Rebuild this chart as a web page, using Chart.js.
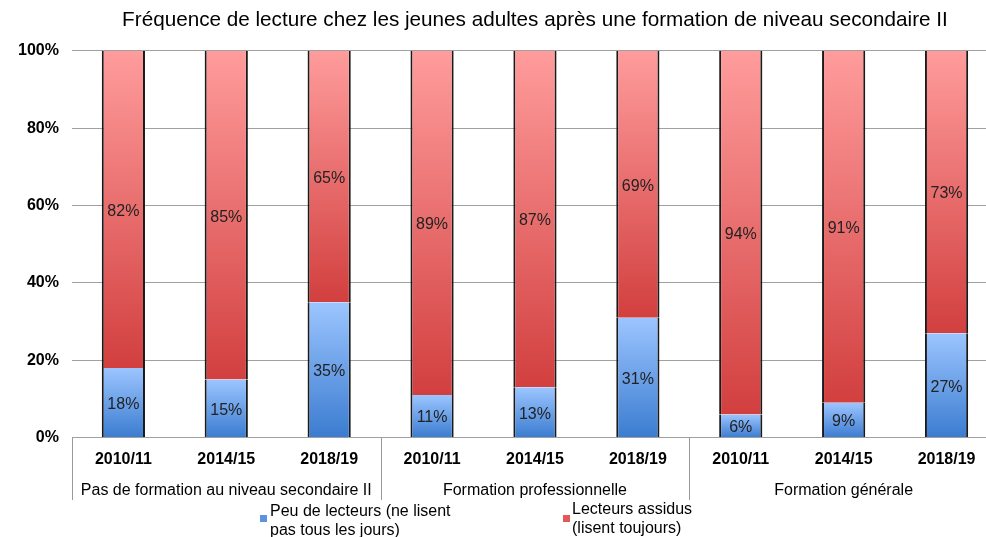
<!DOCTYPE html>
<html>
<head>
<meta charset="utf-8">
<script src="https://cdn.jsdelivr.net/npm/chart.js@4"></script>
<style>
  html, body { margin: 0; padding: 0; background: #fff; overflow: hidden; }
  #wrap { position: relative; width: 1000px; height: 537px; }
  .leg { position: absolute; font-family: "Liberation Sans", Arial, sans-serif; font-size: 16px; line-height: 19px; color: #000; }
  .box { position: absolute; width: 7px; height: 7px; }
</style>
</head>
<body>
<div id="wrap">
  <canvas id="chart" width="1000" height="537"></canvas>
  <div class="box" style="left:260px; top:515px; background:#5b93df;"></div>
  <div class="leg" style="left:270px; top:501px;">Peu de lecteurs (ne lisent<br>pas tous les jours)</div>
  <div class="box" style="left:563px; top:515px; background:#e05a5a;"></div>
  <div class="leg" style="left:572px; top:499px;">Lecteurs assidus<br>(lisent toujours)</div>
</div>
<script>
var years = ["2010/11", "2014/15", "2018/19", "2010/11", "2014/15", "2018/19", "2010/11", "2014/15", "2018/19"];
var groups = ["Pas de formation au niveau secondaire II", "Formation professionnelle", "Formation générale"];
var fewReaders = [18, 15, 35, 11, 13, 31, 6, 9, 27];
var regularReaders = [82, 85, 65, 89, 87, 69, 94, 91, 73];

var FONT = "'Liberation Sans', Arial, sans-serif";

// gradient for one stacked segment, light at top, dark at bottom
function segGradient(top, bottom, light, dark) {
  return function (c) {
    var chart = c.chart;
    if (!chart.chartArea || c.dataIndex === undefined) return dark;
    var y = chart.scales.y;
    var i = c.dataIndex;
    var y0 = y.getPixelForValue(top(i));
    var y1 = y.getPixelForValue(bottom(i));
    var g = chart.ctx.createLinearGradient(0, y0, 0, y1);
    g.addColorStop(0, light);
    g.addColorStop(1, dark);
    return g;
  };
}

// value labels in the middle of each segment
var valueLabels = {
  id: 'valueLabels',
  afterDatasetsDraw: function (chart) {
    var ctx = chart.ctx;
    ctx.save();
    ctx.font = "16px " + FONT;
    ctx.fillStyle = "#222";
    ctx.textAlign = "center";
    ctx.textBaseline = "middle";
    chart.data.datasets.forEach(function (ds, di) {
      chart.getDatasetMeta(di).data.forEach(function (el, i) {
        ctx.fillText(ds.data[i] + "%", el.x, (el.y + el.base) / 2 + 2);
      });
    });
    ctx.restore();
  }
};

// group separators under the plot
var groupLines = {
  id: 'groupLines',
  afterDraw: function (chart) {
    var x = chart.scales.x, x2 = chart.scales.x2;
    var ctx = chart.ctx;
    ctx.save();
    ctx.strokeStyle = "#999";
    ctx.lineWidth = 1;
    for (var k = 0; k < groups.length; k++) {
      var px = Math.round(x.left + (x.right - x.left) * k / groups.length) + 0.5;
      ctx.beginPath();
      ctx.moveTo(px, chart.chartArea.bottom);
      ctx.lineTo(px, x2.bottom);
      ctx.stroke();
    }
    ctx.restore();
  }
};

new Chart(document.getElementById("chart"), {
  type: 'bar',
  data: {
    labels: years,
    datasets: [{
      label: 'Peu de lecteurs (ne lisent pas tous les jours)',
      data: fewReaders,
      backgroundColor: segGradient(function (i) { return fewReaders[i]; }, function () { return 0; }, '#9cc5ff', '#3b7cd0'),
      borderColor: '#1a1a1a',
      borderWidth: { left: 2, right: 2, top: 0, bottom: 0 },
      borderSkipped: false
    }, {
      label: 'Lecteurs assidus (lisent toujours)',
      data: regularReaders,
      backgroundColor: segGradient(function (i) { return fewReaders[i] + regularReaders[i]; }, function (i) { return fewReaders[i]; }, '#ff9c9c', '#d23f3f'),
      borderColor: '#1a1a1a',
      borderWidth: { left: 2, right: 2, top: 0, bottom: 0 },
      borderSkipped: false
    }]
  },
  options: {
    responsive: false,
    animation: false,
    devicePixelRatio: 1,
    layout: { padding: { left: 5, right: 2, top: 0, bottom: 37 } },
    categoryPercentage: 1,
    barPercentage: 0.42,
    plugins: {
      legend: { display: false },
      tooltip: { enabled: false },
      title: {
        display: true,
        text: 'Fréquence de lecture chez les jeunes adultes après une formation de niveau secondaire II',
        fullSize: false,
        color: '#000',
        font: { family: FONT, size: 20.7, weight: 'normal' },
        padding: { top: 8, bottom: 18 }
      }
    },
    scales: {
      x: {
        stacked: true,
        grid: { display: false, drawTicks: false },
        border: { display: false },
        ticks: { color: '#000', font: { family: FONT, size: 16, weight: 'bold' }, padding: 12, maxRotation: 0 }
      },
      x2: {
        type: 'category',
        labels: groups,
        offset: true,
        grid: { display: false, drawTicks: false },
        border: { display: false },
        ticks: { color: '#000', font: { family: FONT, size: 16 }, padding: 0, maxRotation: 0 }
      },
      y: {
        stacked: true,
        min: 0,
        max: 100,
        ticks: {
          stepSize: 20,
          color: '#000',
          padding: 13,
          font: { family: FONT, size: 16, weight: 'bold' },
          callback: function (v) { return v + '%'; }
        },
        grid: { color: '#a0a0a0', drawTicks: false },
        border: { display: false }
      }
    }
  },
  plugins: [valueLabels, groupLines]
});
</script>
</body>
</html>
